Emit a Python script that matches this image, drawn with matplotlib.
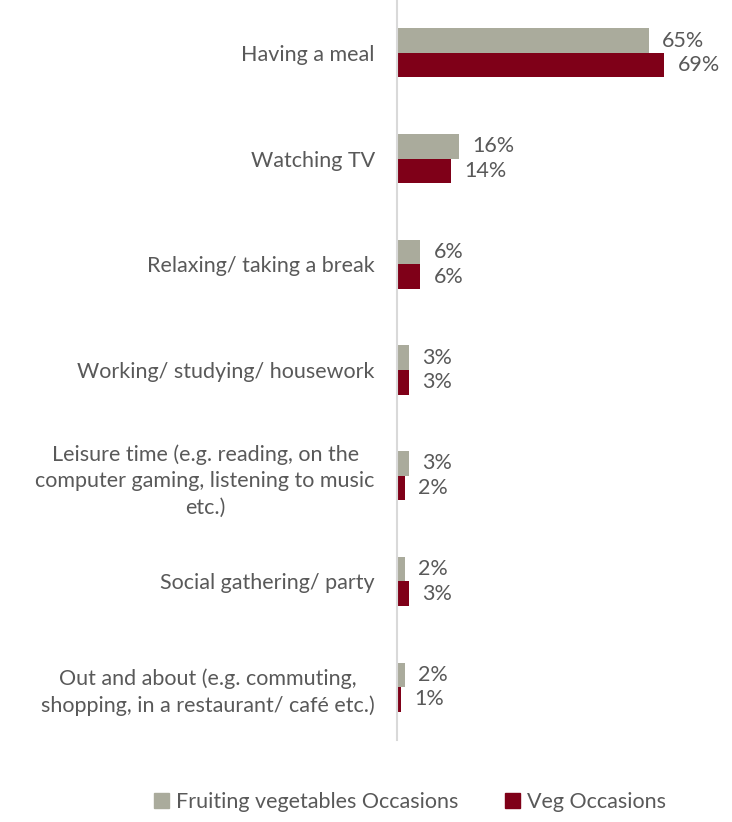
import numpy as np
import matplotlib.pyplot as plt
from matplotlib.patches import Rectangle

plt.rcParams['font.family'] = ['Lato', 'DejaVu Sans']

categories = ['Having a meal', 'Watching TV', 'Relaxing/ taking a break',
              'Working/ studying/ housework',
              'Leisure time (e.g. reading, on the\ncomputer gaming, listening to music\netc.)',
              'Social gathering/ party',
              'Out and about (e.g. commuting,\nshopping, in a restaurant/ caf\u00e9 etc.)']
fruiting = [65, 16, 6, 3, 3, 2, 2]
veg = [69, 14, 6, 3, 2, 3, 1]
series_names = ['Fruiting vegetables Occasions', 'Veg Occasions']
colors = ['#AAAB9C', '#7F0018']
txt = '#595959'
fs = 15.5

fig = plt.figure(figsize=(7.32, 8.22), dpi=100)
ax = fig.add_axes([397 / 732, 1 - 740 / 822, 1 - 397 / 732, 740 / 822])

y = np.arange(len(categories))
h = 0.232
ax.barh(y - h / 2, fruiting, height=h, color=colors[0])
ax.barh(y + h / 2, veg, height=h, color=colors[1])

for i in range(len(categories)):
    ax.text(fruiting[i] + 3.5, y[i] - h / 2, '%d%%' % fruiting[i], va='center', ha='left',
            fontsize=fs, color=txt)
    ax.text(veg[i] + 3.5, y[i] + h / 2, '%d%%' % veg[i], va='center', ha='left',
            fontsize=fs, color=txt)

ax.set_ylim(len(categories) - 0.5, -0.5)
ax.set_xlim(0, 86.5)
ax.set_yticks(y)
ax.set_yticklabels(categories, fontsize=fs, color=txt, multialignment='center', linespacing=1.4)
ax.tick_params(axis='y', length=0, pad=16)
ax.set_xticks([])
for s in ['top', 'right', 'bottom']:
    ax.spines[s].set_visible(False)
ax.spines['left'].set_color('#D9D9D9')
ax.spines['left'].set_linewidth(1.5)

handles = [Rectangle((0, 0), 1, 1, color=c) for c in colors]
fig.legend(handles, series_names, loc='center', bbox_to_anchor=(0.56, 0.024), ncol=2,
           frameon=False, fontsize=fs, labelcolor=txt, handlelength=0.7, handleheight=0.7,
           handletextpad=0.3, columnspacing=2.2)

fig.savefig('out.png', dpi=100)
